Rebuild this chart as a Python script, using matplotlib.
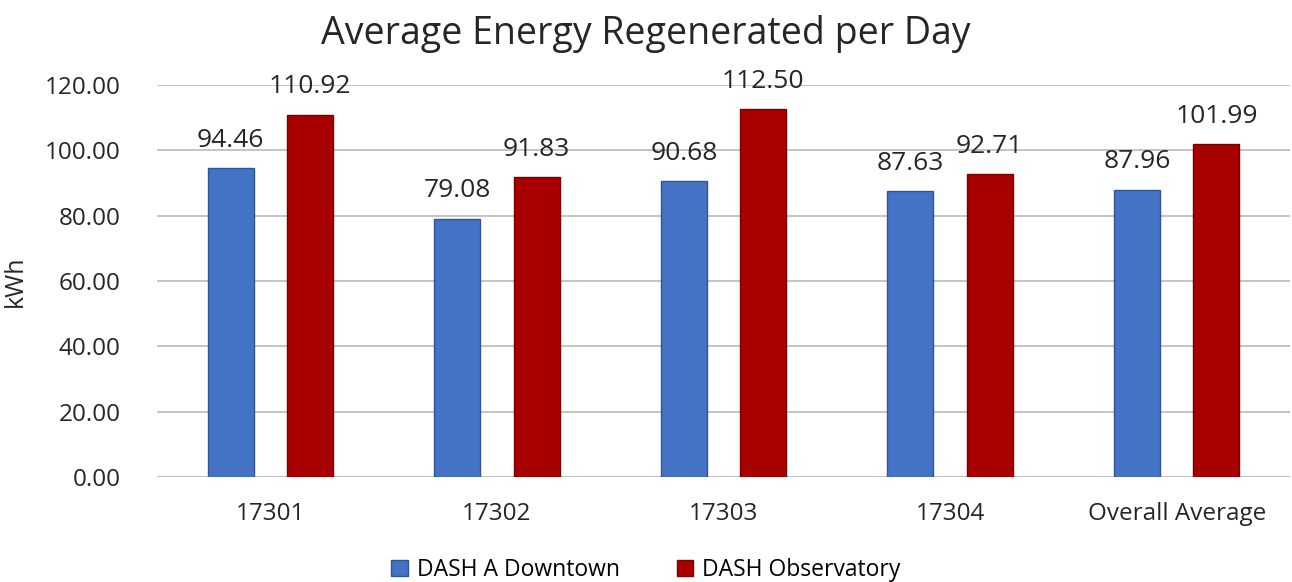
import matplotlib
matplotlib.use("Agg")
import matplotlib.pyplot as plt
import numpy as np

categories = ["17301", "17302", "17303", "17304", "Overall Average"]
downtown = [94.46, 79.08, 90.68, 87.63, 87.96]
observatory = [110.92, 91.83, 112.50, 92.71, 101.99]
yticks = [0, 20, 40, 60, 80, 100, 120]

plt.rcParams["font.family"] = ["Open Sans", "DejaVu Sans"]

BLUE = "#4472C4"
RED = "#A80000"

fig = plt.figure(figsize=(12.92, 5.82), dpi=100)
ax = fig.add_axes([0.1215, 0.180, 0.877, 0.674])

x = np.arange(len(categories))
w = 0.203
off = 0.175
b1 = ax.bar(x - off, downtown, w, color=BLUE, edgecolor="#2F5597", linewidth=1,
            label="DASH A Downtown", zorder=3)
b2 = ax.bar(x + off, observatory, w, color=RED, edgecolor="#7A0000", linewidth=1,
            label="DASH Observatory", zorder=3)

for bars in (b1, b2):
    ax.bar_label(bars, labels=[f"{v:.2f}" for v in bars.datavalues], padding=11,
                 fontsize=19, color="#262626")

ax.set_xlim(-0.5, len(categories) - 0.5)
ax.set_ylim(0, 120)
ax.set_yticks(yticks)
ax.set_yticklabels([f"{v:.2f}" for v in yticks])
ax.set_xticks(x)
ax.set_xticklabels(categories)
ax.tick_params(axis="both", length=0, labelsize=17.5, colors="#262626")
ax.tick_params(axis="x", pad=18)
ax.tick_params(axis="y", pad=26)
ax.grid(axis="y", color="#BFBFBF", linewidth=1.3, zorder=0)
for s in ax.spines.values():
    s.set_visible(False)
ax.axhline(0, color="#BFBFBF", linewidth=1.3, zorder=1)

ax.set_ylabel("kWh", fontsize=18, color="#262626", labelpad=12)
fig.suptitle("Average Energy Regenerated per Day", fontsize=27, color="#262626",
             y=0.975)

fig.legend(handles=[b1, b2], loc="lower center", bbox_to_anchor=(0.5, -0.035),
           ncol=2, frameon=False, fontsize=16.5, handlelength=0.7, handleheight=0.7,
           columnspacing=2.5, handletextpad=0.4)

fig.savefig("out.png", dpi=100)
